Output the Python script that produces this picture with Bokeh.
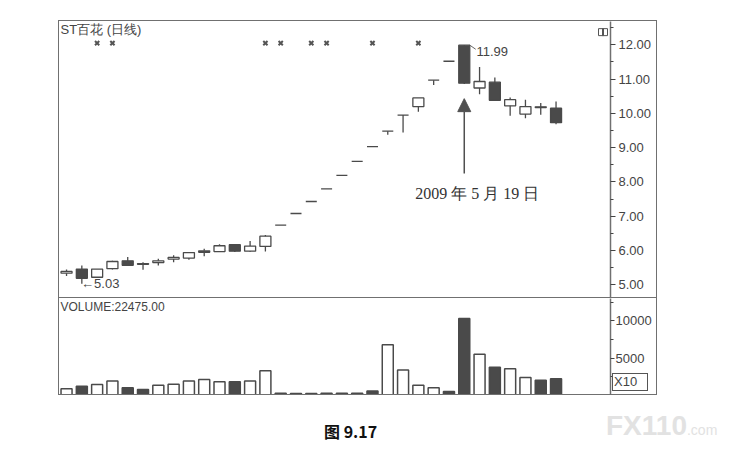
import numpy as np
from bokeh.plotting import figure
from bokeh.models import (Label, Arrow, NormalHead, FixedTicker,
                          NumeralTickFormatter, Div, ColumnDataSource)
from bokeh.layouts import column
from bokeh.core.properties import value
from bokeh.embed import file_html
from bokeh.resources import INLINE

# ST百花 daily candles (price in yuan, volume in x10 lots)
opens  = [5.34, 5.46, 5.22, 5.47, 5.70, 5.62, 5.65, 5.75, 5.78, 5.95, 5.97, 6.17, 5.98, 6.12,
          6.74, 7.08, 7.43, 7.80, 8.19, 8.60, 9.03, 9.48, 9.95, 10.20, 10.97, 11.52,
          11.99, 10.74, 10.91, 10.22, 9.98, 10.17, 10.15]
highs  = [5.45, 5.56, 5.46, 5.70, 5.81, 5.66, 5.76, 5.86, 5.94, 6.05, 6.18, 6.18, 6.28, 6.45,
          6.74, 7.08, 7.43, 7.80, 8.19, 8.60, 9.03, 9.48, 9.95, 10.45, 10.97, 11.52,
          11.99, 11.35, 11.05, 10.46, 10.40, 10.30, 10.35]
lows   = [5.26, 5.03, 5.20, 5.45, 5.55, 5.44, 5.56, 5.66, 5.73, 5.83, 5.96, 5.96, 5.96, 5.97,
          6.74, 7.08, 7.43, 7.80, 8.19, 8.60, 9.03, 9.38, 9.44, 10.05, 10.83, 11.52,
          10.86, 10.56, 10.38, 9.93, 9.86, 9.96, 9.68]
closes = [5.39, 5.19, 5.46, 5.68, 5.57, 5.60, 5.70, 5.80, 5.94, 5.99, 6.14, 5.98, 6.13, 6.42,
          6.74, 7.08, 7.43, 7.80, 8.19, 8.60, 9.03, 9.48, 9.95, 10.45, 10.97, 11.52,
          10.88, 10.93, 10.38, 10.40, 10.20, 10.19, 9.73]
volumes = [910, 1230, 1460, 1960, 1050, 820, 1360, 1500, 1960, 2140, 1830, 1830, 1960, 3320,
           300, 280, 280, 300, 290, 290, 600, 6810, 3410, 1360, 1050, 545,
           10310, 5540, 3770, 3600, 2410, 2050, 2247.5]
# 1 = solid (falling) bar, 0 = hollow
solid = [0, 1, 0, 0, 1, 1, 0, 0, 0, 0, 0, 1, 0, 0,
         0, 0, 0, 0, 0, 0, 1, 0, 0, 0, 0, 1,
         1, 0, 1, 0, 0, 1, 1]
# days carrying the small "x" info markers
marker_days = [2, 3, 13, 14, 16, 17, 20, 23]

price_ticks = [5, 6, 7, 8, 9, 10, 11, 12]
vol_ticks = [5000, 10000]
vol_minor = [2500, 7500, 12500]

DARK = "#4a4a4a"
EDGE = "#707070"
TXT = "#444444"
FONT = "Liberation Sans"

idx = np.arange(len(opens))
o = np.array(opens); c = np.array(closes)
src = ColumnDataSource(dict(
    x=idx, high=highs, low=lows,
    top=np.maximum(o, c), bottom=np.minimum(o, c),
    vol=volumes,
    fill=[DARK if s else "white" for s in solid],
))

x_rng = (-0.46, 35.56)

p = figure(frame_width=551, frame_height=276, x_range=x_rng, y_range=(4.63, 12.68),
           x_axis_location=None, y_axis_location="right",
           min_border_left=0, min_border_top=0, min_border_bottom=0, min_border_right=46,
           toolbar_location=None, output_backend="svg", tools="")
p.outline_line_color = None
p.grid.visible = False
p.background_fill_color = "white"

p.segment(x0="x", y0="high", x1="x", y1="low", source=src, line_color=DARK, line_width=1.3)
p.vbar(x="x", top="top", bottom="bottom", width=0.72, source=src,
       fill_color="fill", line_color=DARK, line_width=1.3)

p.scatter(x=marker_days, y=[12.05] * len(marker_days), marker="x", size=6,
          line_color="#555555", line_width=2)

ya = p.yaxis[0]
ya.ticker = FixedTicker(ticks=price_ticks, minor_ticks=[t + 0.5 for t in price_ticks])
ya.formatter = NumeralTickFormatter(format="0.00")
ya.axis_line_color = EDGE
ya.axis_line_width = 1.5
ya.major_tick_line_color = TXT
ya.minor_tick_line_color = TXT
ya.major_tick_out = 5
ya.major_tick_in = 0
ya.minor_tick_out = 3
ya.minor_tick_in = 0
ya.major_label_standoff = 3
ya.major_label_text_font = FONT
ya.major_label_text_font_size = "13px"
ya.major_label_text_color = TXT

p.add_layout(Label(x=1, y=276, x_units="screen", y_units="screen", text="ST百花 (日线)",
                   text_baseline="top", text_font=FONT, text_font_size="13px",
                   text_color=TXT))
# small split-window icon in the top right corner
p.rect(x=[35.07], y=[12.37], width=9, height=7, width_units="screen", height_units="screen",
       fill_color="white", line_color="#555555", line_width=1)
p.rect(x=[35.07], y=[12.37], width=1, height=7, width_units="screen", height_units="screen",
       fill_color=None, line_color="#555555", line_width=1)

# highest / lowest price notes
hi_i = int(np.argmax(highs)); hi = highs[hi_i]
lo_i = int(np.argmin(lows)); lo = lows[lo_i]
p.segment(x0=[hi_i + 0.36], y0=[hi], x1=[hi_i + 0.75], y1=[hi - 0.12],
          line_color="#666666", line_width=1)
p.text(x=[hi_i + 0.8], y=[hi - 0.18], text=[f"{hi:.2f}"], text_baseline="middle",
       text_align="left", text_font=value(FONT), text_font_size="13px", text_color=TXT)
p.text(x=[lo_i - 0.05], y=[lo], text=[f"←{lo:.2f}"], text_baseline="middle",
       text_align="left", text_font=value(FONT), text_font_size="13px", text_color=TXT)

# date callout
p.add_layout(Arrow(x_start=hi_i, y_start=8.25, x_end=hi_i, y_end=10.43,
                   line_color="#505050", line_width=1.5,
                   end=NormalHead(size=13, fill_color="#505050", line_color="#505050")))
p.text(x=[hi_i + 0.85], y=[7.67], text=["2009 年 5 月 19 日"], text_baseline="middle",
       text_align="center", text_font=value("Liberation Serif"), text_font_size="16px",
       text_color="#333333")

v = figure(frame_width=551, frame_height=96, x_range=p.x_range, y_range=(0, 13000),
           x_axis_location=None, y_axis_location="right",
           min_border_left=0, min_border_top=0, min_border_bottom=0, min_border_right=46,
           toolbar_location=None, output_backend="svg", tools="",
           styles={"border-top": f"1.5px solid {EDGE}"})
v.outline_line_color = None
v.grid.visible = False
v.vbar(x="x", top="vol", bottom=0, width=0.72, source=src,
       fill_color="fill", line_color=DARK, line_width=1.5)

va = v.yaxis[0]
va.ticker = FixedTicker(ticks=vol_ticks, minor_ticks=vol_minor)
va.axis_line_color = EDGE
va.axis_line_width = 1.5
va.major_tick_line_color = TXT
va.minor_tick_line_color = TXT
va.major_tick_out = 4
va.major_tick_in = 0
va.minor_tick_out = 3
va.minor_tick_in = 0
va.major_label_standoff = 1
va.major_label_text_font = FONT
va.major_label_text_font_size = "13px"
va.major_label_text_color = TXT

v.add_layout(Label(x=1, y=96, x_units="screen", y_units="screen",
                   text=f"VOLUME:{volumes[-1] * 10:.2f}", text_baseline="top",
                   text_font=FONT, text_font_size="12px", text_color=TXT))

chart = column(p, v, margin=(20, 0, 0, 58), styles={"border": f"1.5px solid {EDGE}"})

foot = Div(width=720, height=50, styles={"overflow": "visible"}, text=(
    '<div style="position:relative;width:720px;height:50px;">'
    '<span style="position:absolute;left:607px;top:-27px;width:36px;padding:0 1px;border:1px solid #555;'
    'background:white;font:13px \'Liberation Sans\',sans-serif;color:#444;line-height:16px;">X10</span>'
    '<span style="position:absolute;left:319px;top:19px;font:bold 16px \'Noto Sans CJK SC\',sans-serif;color:#111;">图 9.17</span>'
    '<span style="position:absolute;left:601px;top:10px;font:bold 28px \'Liberation Sans\',sans-serif;color:#e2e2e2;">FX110'
    '<span style="font-size:14px;font-weight:normal;">.com</span></span>'
    '</div>'))

layout = column(chart, foot)
open("out.html", "w").write(file_html(layout, INLINE))
